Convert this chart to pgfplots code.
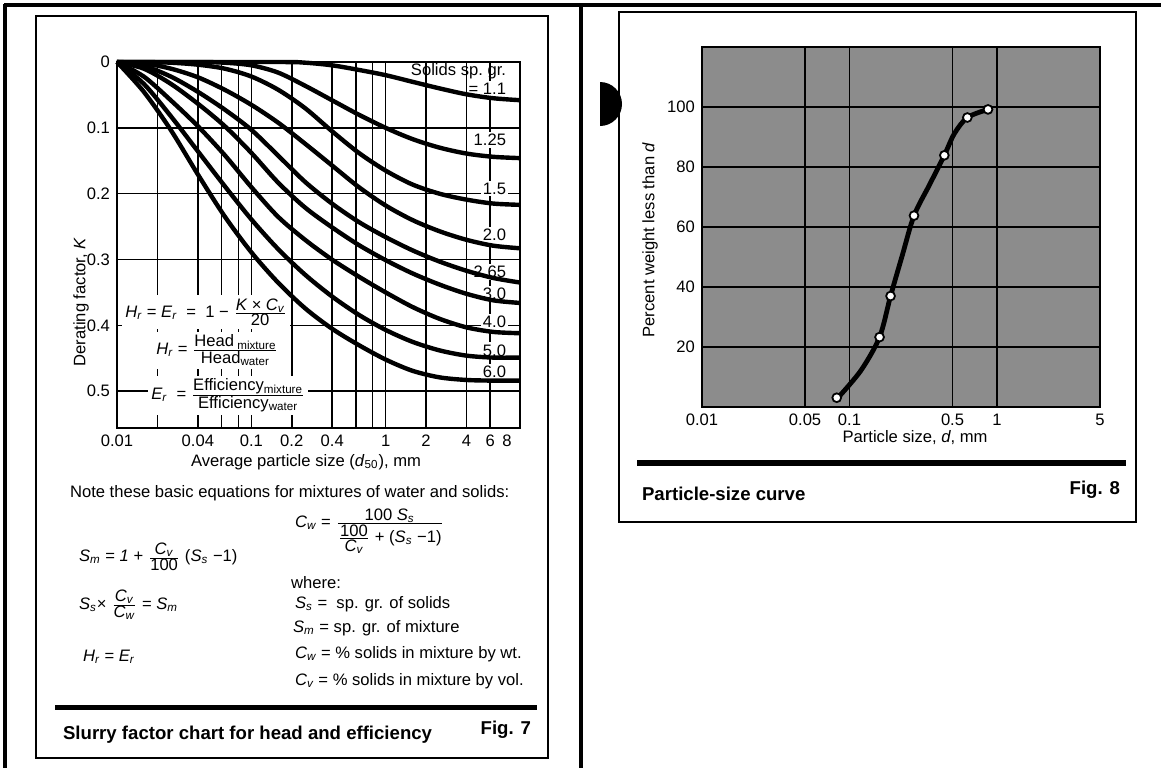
\documentclass[border=0pt]{standalone}
\usepackage{fontspec}
\setmainfont{Liberation Sans}
\usepackage{amsmath}
\usepackage{pgfplots}
\pgfplotsset{compat=1.18}
\newcommand{\V}[2]{\mbox{\itshape #1\textsubscript{\itshape #2}}}
\newcommand{\base}{\fontsize{8.3}{10}\selectfont}
\newcommand{\ttl}{\fontsize{9.3}{11}\selectfont\bfseries}
\begin{document}
\begin{tikzpicture}[font=\base]
\path[use as bounding box] (0pt,0pt) rectangle (580.5pt,-384pt);
\begin{scope}[x=0.5pt,y=-0.5pt]
  % page frame
  \draw[line width=2pt] (5,4) -- (5,768);
  \draw[line width=2pt] (4,5) -- (1161,5);
  \draw[line width=2pt] (581,5) -- (581,768);
  % panel boxes
  \draw[line width=0.6pt] (36,16) rectangle (548,758);
  \draw[line width=0.6pt] (619,12) rectangle (1136,522);
  % punched-hole artefact
  \begin{scope}\clip (600,60) rectangle (640,150); \fill (600,104) circle[radius=22]; \end{scope}
  % captions
  \fill (55,705) rectangle (537,710);
  \node[anchor=west, font=\ttl] at (56,735) {Slurry factor chart for head and efficiency};
  \node[anchor=east, font=\ttl] at (538,730) {Fig. 7};
  \fill (637,460) rectangle (1126,466);
  \node[anchor=west, font=\ttl] at (635,494) {Particle-size curve};
  \node[anchor=east, font=\ttl] at (1127,490) {Fig. 8};
  % axis titles (left)
  \node[rotate=90] at (81,302) {Derating factor, \textit{K}};
  \node at (306,462) {Average particle size (\textit{d}\textsubscript{50}), mm};
  % notes
  \node[anchor=west] at (63,493) {Note these basic equations for mixtures of water and solids:};
  \node[anchor=west] at (72,557) {\V{S}{m} = \textit{1} + $\frac{\V{C}{v}}{\mbox{100}}$ (\V{S}{s} −1)};
  \node[anchor=west] at (72,605) {\V{S}{s}× $\frac{\V{C}{v}}{\V{C}{w}}$ = \V{S}{m}};
  \node[anchor=west] at (76,657) {\V{H}{r} = \V{E}{r}};
  \node[anchor=west] at (288,531) {\V{C}{w} = $\frac{\mbox{100 \V{S}{s}}}{\mbox{$\frac{\mbox{100}}{\V{C}{v}}$ + (\V{S}{s} −1)}}$};
  \node[anchor=west] at (284,583) {where:};
  \node[anchor=west] at (288,604) {\V{S}{s} = \ sp. gr. of solids};
  \node[anchor=west] at (286,628) {\V{S}{m} = sp. gr. of mixture};
  \node[anchor=west] at (288,654) {\V{C}{w} = \% solids in mixture by wt.};
  \node[anchor=west] at (288,681) {\V{C}{v} = \% solids in mixture by vol.};
  % axis titles (right)
  \node[rotate=90] at (650,240) {Percent weight less than \textit{d}};
  \node at (915,438) {Particle size, \textit{d}, mm};
\end{scope}

% ---------------- Fig. 7 ----------------
\begin{axis}[
  at={(159.25pt,-122.5pt)}, anchor=center,
  scale only axis, width=201.5pt, height=183pt,
  xmode=log, xmin=0.01, xmax=10,
  ymin=0, ymax=0.556, y dir=reverse,
  axis line style={line width=0.9pt},
  grid=major, grid style={black, line width=0.8pt},
  major tick length=0pt, minor tick length=0pt,
  xminorticks=false, yminorticks=false,
  xtick={0.02,0.04,0.06,0.08,0.1,0.2,0.4,0.6,0.8,1,2,4,6},
  xticklabels={,0.04,,,0.1,0.2,0.4,,,1,2,4,6},
  extra x ticks={0.01,8}, extra x tick labels={0.01,8},
  extra x tick style={grid=none},
  ytick={0.1,0.2,0.3,0.4,0.5}, yticklabels={0.1,0.2,0.3,0.4,0.5},
  extra y ticks={0}, extra y tick labels={0}, extra y tick style={grid=none},
  ticklabel style={font=\base},
  /pgf/number format/assume math mode=true,
  clip=false,
]
\node[anchor=west, fill=white, inner sep=1.5pt] at (axis cs:0.0109,0.38)
  {\V{H}{r} = \V{E}{r} \ = \ 1 − $\frac{\mbox{\itshape K × C\textsubscript{v}}}{\mbox{20}}$};
\node[anchor=west, fill=white, inner sep=1.5pt] at (axis cs:0.0185,0.438)
  {\V{H}{r} = $\frac{\mbox{Head\textsubscript{ mixture}}}{\mbox{Head\textsubscript{water}}}$};
\node[anchor=west, fill=white, inner sep=1.5pt] at (axis cs:0.0170,0.506)
  {\V{E}{r} \ = $\frac{\mbox{Efficiency\textsubscript{mixture}}}{\mbox{Efficiency\textsubscript{water}}}$};
\node[anchor=east, inner sep=1pt] at (axis cs:8.2,0.0147) {Solids sp.\ gr.};
\node[anchor=east, fill=white, inner sep=1pt] at (axis cs:8.2,0.040) {= 1.1};
\node[anchor=east, fill=white, inner sep=1pt] at (axis cs:8.2,0.1185) {1.25};
\node[anchor=east, fill=white, inner sep=1pt] at (axis cs:8.2,0.192) {1.5};
\node[anchor=east, fill=white, inner sep=1pt] at (axis cs:8.2,0.263) {2.0};
\node[anchor=east, fill=white, inner sep=1pt] at (axis cs:8.2,0.319) {2.65};
\node[anchor=east, fill=white, inner sep=1pt] at (axis cs:8.2,0.352) {3.0};
\node[anchor=east, fill=white, inner sep=1pt] at (axis cs:8.2,0.395) {4.0};
\node[anchor=east, fill=white, inner sep=1pt] at (axis cs:8.2,0.438) {5.0};
\node[anchor=east, fill=white, inner sep=1pt] at (axis cs:8.2,0.471) {6.0};
% sp. gr. 1.1
\addplot[line width=2.2pt, smooth] coordinates {(0.01,0) (0.158,0) (0.251,0.001) (0.398,0.005) (0.631,0.012) (1,0.020) (1.58,0.030) (2.51,0.040) (3.98,0.049) (6.31,0.055) (10,0.058)};
% 1.25
\addplot[line width=2.2pt, smooth] coordinates {(0.01,0) (0.0398,0) (0.0631,0.001) (0.1,0.005) (0.158,0.016) (0.251,0.036) (0.398,0.058) (0.631,0.080) (1,0.100) (1.58,0.117) (2.51,0.130) (3.98,0.139) (6.31,0.144) (10,0.146)};
% 1.5
\addplot[line width=2.2pt, smooth] coordinates {(0.01,0) (0.0158,0) (0.0251,0.001) (0.0398,0.004) (0.0631,0.010) (0.1,0.022) (0.158,0.042) (0.251,0.070) (0.398,0.105) (0.631,0.138) (1,0.165) (1.58,0.186) (2.51,0.200) (3.98,0.209) (6.31,0.215) (10,0.217)};
% 2.0
\addplot[line width=2.2pt, smooth] coordinates {(0.01,0) (0.0158,0.002) (0.0251,0.010) (0.0398,0.023) (0.0631,0.042) (0.1,0.065) (0.158,0.092) (0.251,0.124) (0.398,0.157) (0.631,0.190) (1,0.218) (1.58,0.240) (2.51,0.257) (3.98,0.270) (6.31,0.279) (10,0.283)};
% 2.65
\addplot[line width=2.2pt, smooth] coordinates {(0.01,0) (0.0158,0.006) (0.0251,0.022) (0.0398,0.045) (0.0631,0.072) (0.1,0.103) (0.158,0.142) (0.251,0.182) (0.398,0.215) (0.631,0.243) (1,0.266) (1.58,0.286) (2.51,0.303) (3.98,0.317) (6.31,0.328) (10,0.335)};
% 3.0
\addplot[line width=2.2pt, smooth] coordinates {(0.01,0) (0.0158,0.010) (0.0251,0.033) (0.0398,0.063) (0.0631,0.097) (0.1,0.138) (0.158,0.183) (0.251,0.221) (0.398,0.251) (0.631,0.278) (1,0.301) (1.58,0.321) (2.51,0.338) (3.98,0.352) (6.31,0.362) (10,0.366)};
% 4.0
\addplot[line width=2.2pt, smooth] coordinates {(0.01,0) (0.0158,0.022) (0.0251,0.058) (0.0398,0.097) (0.0631,0.141) (0.1,0.190) (0.158,0.235) (0.251,0.270) (0.398,0.300) (0.631,0.326) (1,0.350) (1.58,0.372) (2.51,0.390) (3.98,0.403) (6.31,0.410) (10,0.412)};
% 5.0
\addplot[line width=2.2pt, smooth] coordinates {(0.01,0) (0.0158,0.033) (0.0251,0.082) (0.0398,0.135) (0.0631,0.188) (0.1,0.239) (0.158,0.284) (0.251,0.323) (0.398,0.356) (0.631,0.384) (1,0.407) (1.58,0.425) (2.51,0.438) (3.98,0.446) (6.31,0.449) (10,0.449)};
% 6.0
\addplot[line width=2.2pt, smooth] coordinates {(0.01,0) (0.0158,0.045) (0.0251,0.103) (0.0398,0.170) (0.0631,0.234) (0.1,0.289) (0.158,0.335) (0.251,0.374) (0.398,0.405) (0.631,0.430) (1,0.452) (1.58,0.469) (2.51,0.479) (3.98,0.483) (6.31,0.484) (10,0.484)};
\end{axis}

% ---------------- Fig. 8 ----------------
\begin{axis}[
  at={(450.5pt,-113.5pt)}, anchor=center,
  scale only axis, width=199pt, height=180pt,
  xmode=log, xmin=0.01, xmax=5, ymin=0, ymax=120,
  axis background/.style={fill=black!45},
  axis line style={line width=0.6pt},
  grid=major, grid style={black, line width=0.8pt},
  major tick length=0pt, minor tick length=0pt,
  xminorticks=false,
  xtick={0.01,0.05,0.1,0.5,1,5}, xticklabels={0.01,0.05,0.1,0.5,1,5},
  ytick={20,40,60,80,100},
  ticklabel style={font=\base},
  /pgf/number format/assume math mode=true,
  clip=false,
]
\addplot[line width=2.4pt, smooth] coordinates {(0.085,3.5) (0.1197,12.2) (0.16,23.3) (0.19,37) (0.228,50.5) (0.274,63.8) (0.35,74.2) (0.44,83.9) (0.514,91.1) (0.63,96.5) (0.87,99.2)};
\addplot[only marks, mark=*, mark size=2.2pt, mark options={fill=white, draw=black, line width=0.9pt}] coordinates {(0.082,3.1) (0.16,23.3) (0.19,37) (0.274,63.8) (0.44,83.9) (0.63,96.5) (0.87,99.2)};
\end{axis}
\end{tikzpicture}
\end{document}
